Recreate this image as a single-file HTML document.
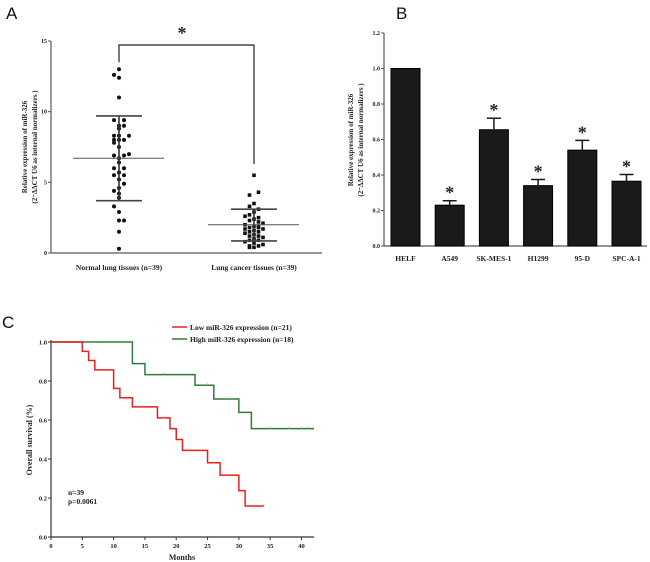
<!DOCTYPE html>
<html><head><meta charset="utf-8">
<style>
body{margin:0;background:#fff;}
svg{display:block;font-family:"Liberation Serif",serif;}
.t{font-family:"Liberation Serif",serif;font-weight:bold;fill:#222;}
.L{font-family:"Liberation Sans",sans-serif;font-size:17px;fill:#111;}
</style></head>
<body>
<svg id="fig" width="650" height="562" viewBox="0 0 650 562" xmlns="http://www.w3.org/2000/svg">
<text class="L" x="6" y="19">A</text>
<text class="L" x="396" y="19">B</text>
<text class="L" x="2" y="328">C</text>
<g id="pa"></g>
<g id="pb"></g>
<g id="pc"></g>
</svg>
<script>
// ---------- Panel A data ----------
const groupsA = ["Normal lung tissues (n=39)", "Lung cancer tissues (n=39)"];
const normalVals = [13.0,12.6,12.4,11.0,9.4,9.4,9.0,9.0,8.8,8.3,8.3,8.3,8.0,8.0,8.0,7.8,7.5,7.0,6.9,6.9,6.7,6.4,6.0,6.0,5.7,5.5,5.5,5.2,4.9,4.6,4.4,4.2,3.9,3.3,2.9,2.3,2.3,1.5,0.3];
const normalJit = [0,-1,0,0,-1,1,0,1,0,-1,0,2,-1,0,1,-1,0,2,-1,1,0,0,-1,1,0,-1,1,0,1,0,-1,0,0,-1,0,0,1,0,0];
const cancerVals = [5.5,4.3,4.1,3.5,3.3,3.1,2.9,2.7,2.6,2.5,2.4,2.3,2.2,2.1,2.0,1.9,1.9,1.8,1.8,1.7,1.7,1.6,1.5,1.5,1.4,1.3,1.2,1.2,1.1,1.0,0.9,0.9,0.8,0.7,0.6,0.5,0.5,0.4,0.4];
const cancerJit = [0,1,-1,0,-1,1,0,-1,-2,1,0,-1,1,2,-2,0,1,-1,1,-2,2,0,-1,1,-2,0,1,-1,2,0,-1,1,-2,0,2,-1,1,0,-1];
const meanA = [6.7, 2.0];
const sdHiA = [9.7, 3.1];
const sdLoA = [3.7, 0.85];
const ticksA = [0, 5, 10, 15];

// ---------- Panel B data ----------
const catsB = ["HELF","A549","SK-MES-1","H1299","95-D","SPC-A-1"];
const valsB = [1.0, 0.23, 0.655, 0.34, 0.54, 0.365];
const errB = [0, 0.025, 0.065, 0.035, 0.055, 0.038];
const starB = [false, true, true, true, true, true];
const ticksB = [0, 0.2, 0.4, 0.6, 0.8, 1.0, 1.2];

// ---------- Panel C data ----------
const lowT = [0,5,6,7,10,11,13,17,19,20,21,25,27,30,31,34];
const lowS = [1.0,0.952,0.905,0.857,0.762,0.714,0.667,0.611,0.556,0.5,0.444,0.381,0.317,0.238,0.159,0.159];
const lowCens = [14,18,22,28,34];
const highT = [0,13,15,23,26,30,32,42];
const highS = [1.0,0.889,0.833,0.778,0.708,0.639,0.556,0.556];
const highCens = [18,25,28,35,38,40,41];
const ticksCx = [0,5,10,15,20,25,30,35,40];
const ticksCy = [0,0.2,0.4,0.6,0.8,1.0];

const NS="http://www.w3.org/2000/svg";
function mk(parent, tag, attrs, txt){const e=document.createElementNS(NS,tag);for(const k in attrs)e.setAttribute(k,attrs[k]);if(txt!==undefined)e.textContent=txt;parent.appendChild(e);return e;}

// ===== Panel A =====
(function(){
const g=document.getElementById('pa');
const x0=51,y0=253,yTop=41,xEnd=322;
const ya=v=>y0-(v/15)*(y0-yTop);
const gx=[119,254];
let e=mk(g,'line',{x1:x0,y1:yTop,x2:x0,y2:y0,stroke:'#555','stroke-width':1.2});
 
e=mk(g,'line',{x1:x0,y1:y0,x2:xEnd,y2:y0,stroke:'#555','stroke-width':1.2});
 
ticksA.forEach(t=>{
 mk(g,'line',{x1:x0-3,y1:ya(t),x2:x0,y2:ya(t),stroke:'#555'});
 e=mk(g,'text',{x:x0-4,y:ya(t)+2,'font-size':6,'text-anchor':'end',class:'t'},String(t));
  
});
e=mk(g,'text',{transform:'translate(27,147) rotate(-90)','font-size':7,'text-anchor':'middle',class:'t'},'Relative expression of miR-326');
 
e=mk(g,'text',{transform:'translate(37,147) rotate(-90)','font-size':7,'text-anchor':'middle',class:'t'},'(2\u207B\u0394\u0394CT U6 as internal normalizers )');
 
groupsA.forEach((n,i)=>{
 e=mk(g,'text',{x:gx[i],y:270,'font-size':7.5,'text-anchor':'middle',class:'t'},n);
  
});
// bracket
e=mk(g,'path',{d:`M${gx[0]},${ya(13.5)} V45 H${gx[1]} V${ya(6.3)}`,fill:'none',stroke:'#222','stroke-width':1.2});
 
e=mk(g,'text',{x:182,y:39,'font-size':18,'text-anchor':'middle',class:'t'},'*');
 
// points
normalVals.forEach((v,i)=>{
 e=mk(g,'circle',{cx:gx[0]+normalJit[i]*5,cy:ya(v),r:2,fill:'#111'});
  
});
cancerVals.forEach((v,i)=>{
 e=mk(g,'rect',{x:gx[1]+cancerJit[i]*4.5-1.8,y:ya(v)-1.8,width:3.6,height:3.6,fill:'#111'});
  
});
// mean & sd
[0,1].forEach(i=>{
 e=mk(g,'line',{x1:gx[i],y1:ya(sdHiA[i]),x2:gx[i],y2:ya(sdLoA[i]),stroke:'#333','stroke-width':1.6});
  
 e=mk(g,'line',{x1:gx[i]-46,y1:ya(meanA[i]),x2:gx[i]+45,y2:ya(meanA[i]),stroke:'#555','stroke-width':1});
  
 [sdHiA[i],sdLoA[i]].forEach(v=>{
  e=mk(g,'line',{x1:gx[i]-23,y1:ya(v),x2:gx[i]+23,y2:ya(v),stroke:'#444','stroke-width':1.6});
   
 });
});
})();

// ===== Panel B =====
(function(){
const g=document.getElementById('pb');
const x0=384,y0=246,yTop=33,xEnd=647;
const yb=v=>y0-(v/1.2)*(y0-yTop);
const step=44.2, bw=29, first=405.5;
let e=mk(g,'line',{x1:x0,y1:yTop,x2:x0,y2:y0,stroke:'#555','stroke-width':1.2});
 
e=mk(g,'line',{x1:x0,y1:y0,x2:xEnd,y2:y0,stroke:'#555','stroke-width':1.2});
 
ticksB.forEach(t=>{
 mk(g,'line',{x1:x0-3,y1:yb(t),x2:x0,y2:yb(t),stroke:'#555'});
 e=mk(g,'text',{x:x0-4,y:yb(t)+2,'font-size':6,'text-anchor':'end',class:'t'},t.toFixed(1));
  
});
e=mk(g,'text',{transform:'translate(353,140) rotate(-90)','font-size':7,'text-anchor':'middle',class:'t'},'Relative expression of miR-326');
 
e=mk(g,'text',{transform:'translate(363,140) rotate(-90)','font-size':7,'text-anchor':'middle',class:'t'},'(2\u207B\u0394\u0394CT U6 as internal normalizers )');
 
catsB.forEach((c,i)=>{
 const cx=first+i*step;
 e=mk(g,'rect',{x:cx-bw/2,y:yb(valsB[i]),width:bw,height:y0-yb(valsB[i]),fill:'#1a1a1a',stroke:'#000'});
  
 if(errB[i]>0){
  e=mk(g,'path',{d:`M${cx},${yb(valsB[i])} V${yb(valsB[i]+errB[i])} M${cx-7},${yb(valsB[i]+errB[i])} H${cx+7}`,stroke:'#1a1a1a','stroke-width':1.5,fill:'none'});
   
 }
 if(starB[i]){
  e=mk(g,'text',{x:cx,y:yb(valsB[i]+errB[i])-2,'font-size':18,'text-anchor':'middle',class:'t'},'*');
   
 }
 e=mk(g,'text',{x:cx,y:261,'font-size':7.5,'text-anchor':'middle',class:'t'},c);
  
});
})();

// ===== Panel C =====
(function(){
const g=document.getElementById('pc');
const x0=51,y0=537,yTop=342,xMax=314;
const xc=m=>x0+(m/42)*(xMax-x0);
const yc=s=>y0-s*(y0-yTop);
let e=mk(g,'line',{x1:x0,y1:yTop-2,x2:x0,y2:y0,stroke:'#333','stroke-width':1.2});
 
e=mk(g,'line',{x1:x0,y1:y0,x2:xMax,y2:y0,stroke:'#333','stroke-width':1.2});
 
ticksCy.forEach(t=>{
 mk(g,'line',{x1:x0-3,y1:yc(t),x2:x0,y2:yc(t),stroke:'#333'});
 e=mk(g,'text',{x:x0-4,y:yc(t)+2.5,'font-size':6.5,'text-anchor':'end',class:'t'},t.toFixed(1));
  
});
ticksCx.forEach(t=>{
 mk(g,'line',{x1:xc(t),y1:y0,x2:xc(t),y2:y0+3,stroke:'#333'});
 e=mk(g,'text',{x:xc(t),y:y0+11,'font-size':6.5,'text-anchor':'middle',class:'t'},String(t));
  
});
e=mk(g,'text',{x:182,y:560,'font-size':8,'text-anchor':'middle',class:'t'},'Months');
 
e=mk(g,'text',{transform:'translate(32,440) rotate(-90)','font-size':8,'text-anchor':'middle',class:'t'},'Overall survival (%)');
 
function steps(T,S){let d=`M${xc(T[0])},${yc(S[0])}`;for(let i=1;i<T.length;i++){d+=` H${xc(T[i])} V${yc(S[i])}`;}return d;}
function survAt(T,S,m){let s=S[0];for(let i=0;i<T.length;i++){if(T[i]<=m)s=S[i];}return s;}
e=mk(g,'path',{d:steps(highT,highS),fill:'none',stroke:'#2e7d3a','stroke-width':1.5});
 
e=mk(g,'path',{d:steps(lowT,lowS),fill:'none',stroke:'#e8201c','stroke-width':1.5});
 
highCens.forEach(m=>{const y=yc(survAt(highT,highS,m));
 e=mk(g,'line',{x1:xc(m),y1:y-2,x2:xc(m),y2:y,stroke:'#d8a0a0','stroke-width':0.8});
  });
lowCens.forEach(m=>{const y=yc(survAt(lowT,lowS,m));
 e=mk(g,'line',{x1:xc(m),y1:y-2,x2:xc(m),y2:y,stroke:'#d8a0a0','stroke-width':0.8});
  });
e=mk(g,'text',{x:68,y:495,'font-size':7.5,class:'t'},'n=39');
 
e=mk(g,'text',{x:68,y:504,'font-size':7.5,class:'t'},'p=0.0061');
 
// legend
e=mk(g,'line',{x1:172,y1:327,x2:187,y2:327,stroke:'#e8201c','stroke-width':1.5});
 
e=mk(g,'text',{x:190,y:330,'font-size':7.5,class:'t'},'Low miR-326 expression (n=21)');
 
e=mk(g,'line',{x1:172,y1:339,x2:187,y2:339,stroke:'#2e7d3a','stroke-width':1.5});
 
e=mk(g,'text',{x:190,y:342,'font-size':7.5,class:'t'},'High miR-326 expression (n=18)');
 
})();
</script>
</body></html>
